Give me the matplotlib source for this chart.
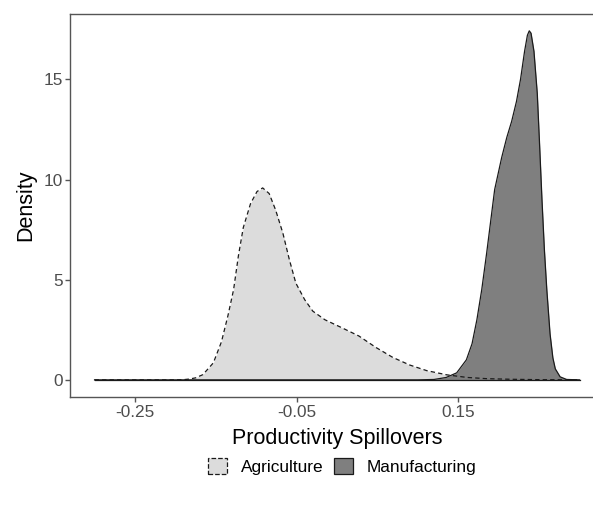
import matplotlib
matplotlib.use("Agg")
import matplotlib.pyplot as plt
from matplotlib.patches import Patch

plt.rcParams['font.family'] = ['Liberation Sans', 'DejaVu Sans']

# density curves
agri_x = [-0.300, -0.200, -0.190, -0.183, -0.175, -0.166, -0.153, -0.143, -0.135,
          -0.128, -0.122, -0.116, -0.107, -0.099, -0.092, -0.084, -0.076, -0.067,
          -0.059, -0.051, -0.040, -0.030, -0.015, 0.006, 0.027, 0.048, 0.069,
          0.090, 0.111, 0.136, 0.161, 0.185, 0.215, 0.250, 0.300]
agri_y = [0.0, 0.0, 0.01, 0.04, 0.10, 0.26, 0.85, 1.9, 3.2,
          4.5, 6.2, 7.6, 8.8, 9.4, 9.58, 9.30, 8.48, 7.32,
          6.0, 4.83, 4.0, 3.43, 3.0, 2.6, 2.19, 1.62, 1.12,
          0.74, 0.46, 0.25, 0.12, 0.06, 0.03, 0.01, 0.0]

manu_x = [-0.300, 0.100, 0.120, 0.135, 0.148, 0.160, 0.167, 0.173, 0.179, 0.185,
          0.190, 0.195, 0.2037, 0.210, 0.216, 0.222, 0.227, 0.232, 0.2355,
          0.2378, 0.240, 0.2436, 0.2477, 0.2505, 0.2535, 0.2565, 0.2595,
          0.2635, 0.2670, 0.2700, 0.2760, 0.284, 0.300]
manu_y = [0.0, 0.0, 0.02, 0.12, 0.35, 1.0, 1.8, 3.0, 4.5, 6.3,
          7.9, 9.5, 11.1, 12.1, 12.9, 13.9, 15.0, 16.4, 17.2,
          17.42, 17.3, 16.4, 14.3, 11.8, 9.0, 6.5, 4.5,
          2.3, 1.1, 0.55, 0.15, 0.02, 0.0]

x_ticks = [-0.25, -0.05, 0.15]
x_labels = ["-0.25", "-0.05", "0.15"]
y_ticks = [0, 5, 10, 15]
groups = ["Agriculture", "Manufacturing"]

agri_fill = "#dcdcdc"
manu_fill = "#7f7f7f"
dash = (0, (3.5, 2.5))

fig = plt.figure(figsize=(5.93, 5.05), dpi=100)
ax = fig.add_axes([70.3 / 593, 107.7 / 505, 533.5 / 593, 383.3 / 505])

ax.fill_between(agri_x, agri_y, 0, color=agri_fill, lw=0)
ax.fill_between(manu_x, manu_y, 0, color=manu_fill, lw=0)
# outlines
ax.plot(manu_x, manu_y, color="#1a1a1a", lw=0.9)
ax.plot([manu_x[0], manu_x[-1]], [0, 0], color="#1a1a1a", lw=0.9)
ax.plot(agri_x, agri_y, color="#1a1a1a", lw=0.9, linestyle=dash)

ax.set_xlim(-0.33, 0.33)
ax.set_ylim(-0.87, 18.26)
ax.set_xticks(x_ticks)
ax.set_xticklabels(x_labels)
ax.set_yticks(y_ticks)

for s in ax.spines.values():
    s.set_color("#555555")
    s.set_linewidth(1.0)
ax.tick_params(axis="both", length=3.6, width=1.0, color="#555555",
               labelsize=12.4, labelcolor="#4d4d4d", pad=2)

ax.set_xlabel("Productivity Spillovers", fontsize=15.5, color="black", labelpad=5.5)
ax.set_ylabel("Density", fontsize=15.5, color="black", labelpad=5)

handles = [
    Patch(facecolor=agri_fill, edgecolor="#1a1a1a", linestyle="--", linewidth=0.9),
    Patch(facecolor=manu_fill, edgecolor="#1a1a1a", linewidth=0.9),
]
fig.legend(handles, groups, loc="center", bbox_to_anchor=(0.577, 0.077), ncol=2,
           frameon=False, fontsize=12.4, handlelength=1.1, handleheight=1.1,
           handletextpad=0.8, columnspacing=0.6)

fig.savefig("out.png", dpi=100)
